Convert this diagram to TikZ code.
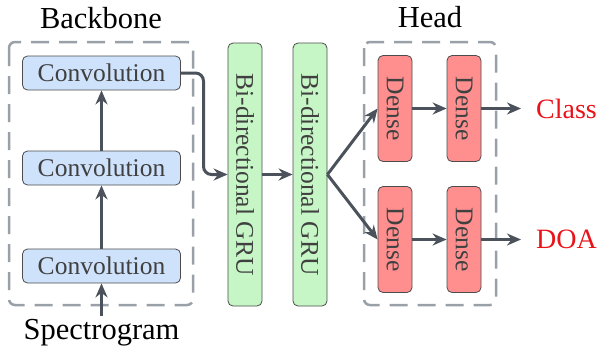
\documentclass[tikz,border=0pt]{standalone}
\usepackage{fontspec}
\setmainfont{Liberation Serif}
\usepackage{graphicx}
\usetikzlibrary{arrows.meta}
\definecolor{convblue}{HTML}{CFE2FC}
\definecolor{grugreen}{HTML}{C6F6C6}
\definecolor{densered}{HTML}{FF8F8F}
\definecolor{linegray}{HTML}{4B525B}
\definecolor{boxgray}{HTML}{9AA0A8}
\definecolor{outred}{HTML}{E8141A}
\tikzset{
    block/.style={draw=black!70, line width=0.8pt, rounded corners=5pt, text=black!75,
        font=\fontsize{25.5}{28}\selectfont, inner sep=0pt},
    conv/.style={block, fill=convblue, minimum width=158pt, minimum height=34pt},
    gru/.style={block, fill=grugreen, minimum width=34pt, minimum height=263pt},
    dense/.style={block, fill=densered, minimum width=34pt, minimum height=106pt},
    group/.style={draw=boxgray, line width=2.5pt, dash pattern=on 18pt off 10pt, rounded corners=6pt},
    title/.style={font=\fontsize{30.5}{32}\selectfont},
    output/.style={font=\fontsize{28}{30}\selectfont, text=outred, inner xsep=15pt},
    flow/.style={-{Stealth[length=14pt,width=12pt]}, draw=linegray, line width=3pt},
}
\begin{document}
\begin{tikzpicture}[x=1pt, y=-1pt]
    \useasboundingbox (0,0) rectangle (602,360);
    % groups
    \draw[group] (9,42) rectangle (193,305);
    \draw[group] (364,42) rectangle (496,305);
    \node[title] (bb) at (101,18) {Backbone};
    \node[title] (hd) at (430,17) {Head};
    % backbone
    \node[conv] (c3) at (101.5,73) {Convolution};
    \node[conv] (c2) at (101.5,168) {Convolution};
    \node[conv] (c1) at (101.5,266) {Convolution};
    \node[title] (spec) at (101.5,333) {Spectrogram};
    % recurrent part
    \node[gru] (g1) at (245,174.5) {\rotatebox{-90}{Bi-directional GRU}};
    \node[gru] (g2) at (310,174.5) {\rotatebox{-90}{Bi-directional GRU}};
    % head
    \node[dense] (d1) at (395,108.5) {\rotatebox{-90}{Dense}};
    \node[dense] (d2) at (464,108.5) {\rotatebox{-90}{Dense}};
    \node[dense] (d3) at (395,239.5) {\rotatebox{-90}{Dense}};
    \node[dense] (d4) at (464,239.5) {\rotatebox{-90}{Dense}};
    \node[output, anchor=west] (cls) at (521,108.5) {Class};
    \node[output, anchor=west] (doa) at (521,239.5) {DOA};
    \coordinate (turn) at (203.5,120);
    \draw[flow, rounded corners=8pt] (c3.east) -| (turn) |- (g1.west);
    \draw[flow] (spec.north) -- (c1.south);
    \draw[flow] (c1.north) -- (c2.south);
    \draw[flow] (c2.north) -- (c3.south);
    \draw[flow] (g1.east) -- (g2.west);
    \draw[flow] (g2.east) -- (d1.west);
    \draw[flow] (g2.east) -- (d3.west);
    \draw[flow] (d1.east) -- (d2.west);
    \draw[flow] (d3.east) -- (d4.west);
    \draw[flow] (d2.east) -- (cls.west);
    \draw[flow] (d4.east) -- (doa.west);

\end{tikzpicture}
\end{document}
